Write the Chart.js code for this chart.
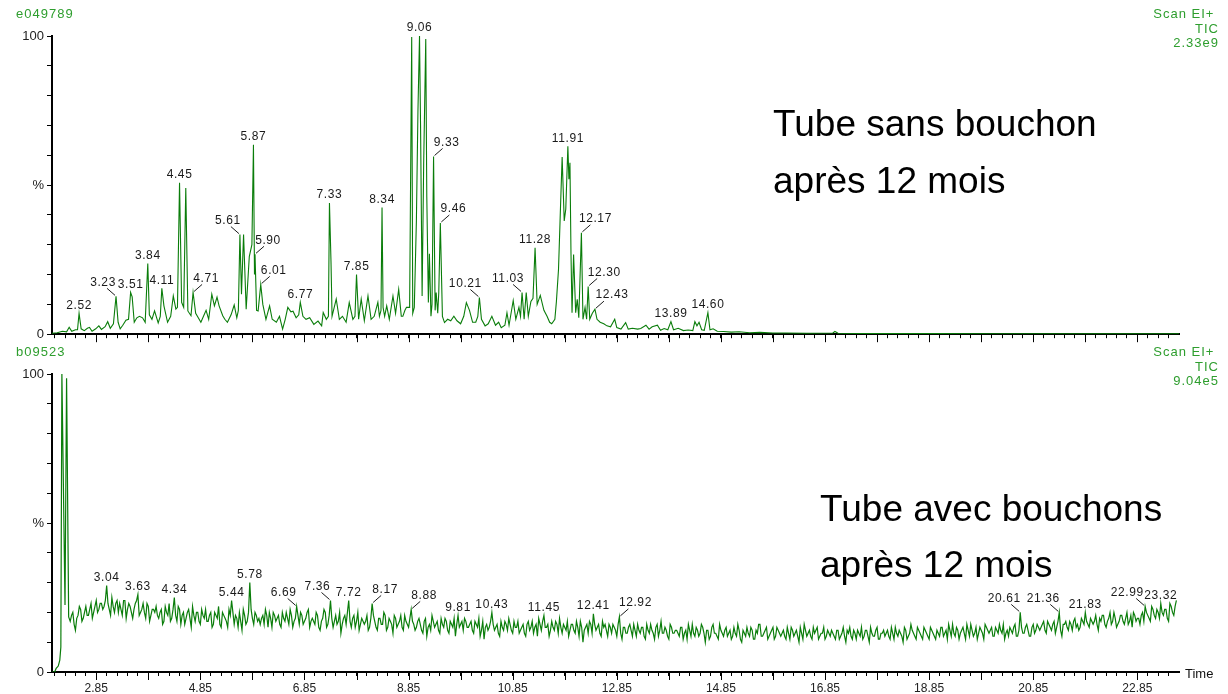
<!DOCTYPE html>
<html>
<head>
<meta charset="utf-8">
<script src="https://cdn.jsdelivr.net/npm/chart.js@4.4.1/dist/chart.umd.min.js"></script>
<style>
  body { margin: 0; width: 1228px; height: 694px; background: #fff; position: relative; overflow: hidden;
         font-family: "Liberation Sans", Arial, sans-serif; }
  canvas { position: absolute; left: 0; }
  .tag { position: absolute; color: #2e9e2e; font-size: 13px; letter-spacing: 1px; line-height: 14.5px; white-space: nowrap; }
  .right { text-align: right; }
  .big { position: absolute; font-size: 37px; color: #000; white-space: nowrap; }
</style>
</head>
<body>
<canvas id="topChart" width="1228" height="345" style="top:0"></canvas>
<canvas id="bottomChart" width="1228" height="349" style="top:345px"></canvas>

<div class="tag" style="left:16px;top:7px">e049789</div>
<div class="tag right" style="right:9px;top:7px">Scan EI+&nbsp;<br>TIC<br>2.33e9</div>
<div class="tag" style="left:16px;top:345px">b09523</div>
<div class="tag right" style="right:9px;top:345px">Scan EI+&nbsp;<br>TIC<br>9.04e5</div>

<div class="big" style="left:773px;top:95px;line-height:57px">Tube sans bouchon<br>après 12 mois</div>
<div class="big" style="left:820px;top:481px;line-height:56px">Tube avec bouchons<br>après 12 mois</div>
<div style="position:absolute;left:1185px;top:666px;font-size:13px;color:#111">Time</div>

<script>
// --- data (time in min, signal in %) ---

// top run: sans bouchon, [time, %]
const topTrace = [
  [2.00,0.3],[2.10,0.5],[2.20,1.0],[2.28,0.8],[2.33,2.3],[2.38,1.0],[2.45,1.5],[2.49,1.5],[2.52,7.0],[2.56,1.8],
  [2.62,1.2],[2.68,2.0],[2.72,2.3],[2.77,1.0],[2.84,1.8],[2.90,2.8],[2.95,1.6],[3.02,2.5],[3.07,4.2],[3.12,2.0],
  [3.18,3.5],[3.23,12.7],[3.27,4.0],[3.31,1.8],[3.36,3.0],
  [3.42,4.7],[3.47,5.0],[3.51,14.0],[3.54,12.5],[3.58,4.0],[3.63,5.5],[3.68,6.0],[3.74,5.5],[3.79,4.0],[3.84,23.7],
  [3.87,6.5],[3.92,5.0],[3.97,7.8],[4.04,3.8],[4.08,6.0],[4.11,15.4],[4.15,9.5],[4.22,4.0],[4.28,6.0],[4.33,12.8],[4.38,8.4],
  [4.41,9.0],[4.45,50.8],[4.49,10.7],[4.53,9.0],[4.57,49.0],[4.61,7.8],[4.67,6.2],[4.71,14.0],[4.76,7.0],[4.81,5.5],
  [4.86,4.0],[4.91,6.0],[4.96,8.0],[5.01,5.0],[5.07,13.4],[5.12,9.5],[5.17,12.4],[5.21,9.5],[5.28,6.2],[5.32,5.0],
  [5.37,4.0],[5.44,6.5],[5.50,9.8],[5.55,5.5],
  [5.58,8.0],[5.61,33.4],[5.64,13.4],[5.68,33.4],[5.73,8.4],[5.79,26.0],[5.84,30.0],[5.87,63.5],[5.89,20.0],[5.90,26.8],
  [5.93,8.0],[5.96,7.8],[6.01,16.7],[6.05,10.0],[6.11,5.0],[6.18,9.5],[6.23,5.0],[6.31,4.0],[6.37,6.0],[6.43,1.7],
  [6.48,5.0],[6.53,9.0],[6.59,7.5],[6.63,7.7],[6.69,5.5],
  [6.74,6.5],[6.77,10.7],[6.82,6.0],[6.88,5.0],[6.95,5.5],[7.03,3.3],[7.11,4.4],[7.18,2.8],[7.21,7.3],[7.27,5.0],
  [7.31,6.0],[7.33,44.0],[7.36,24.0],[7.38,6.0],[7.46,11.8],[7.52,5.0],[7.58,6.0],[7.65,4.0],[7.71,10.6],[7.78,5.0],
  [7.82,6.0],[7.85,20.0],[7.89,5.0],[7.94,11.8],
  [8.00,4.5],[8.07,12.8],[8.13,5.0],[8.19,6.0],[8.26,10.7],[8.29,6.0],[8.32,8.0],[8.34,42.5],[8.36,9.0],[8.39,6.0],
  [8.43,9.5],[8.48,5.0],[8.55,12.8],[8.60,7.0],[8.66,15.0],[8.71,6.0],[8.74,6.0],[8.78,8.0],[8.81,9.0],[8.87,9.0],
  [8.91,99.7],[8.93,7.0],[8.96,9.0],[9.00,38.0],[9.03,75.0],[9.06,100],[9.08,70.0],[9.11,12.8],[9.14,57.0],[9.18,99.0],
  [9.20,46.0],[9.23,10.6],[9.25,27.0],[9.28,6.0],[9.30,10.0],[9.33,59.6],[9.36,8.0],[9.38,14.0],[9.41,7.0],[9.43,14.0],
  [9.46,37.3],[9.50,6.0],
  [9.54,3.9],[9.60,5.0],[9.66,4.5],[9.72,6.0],[9.78,4.5],[9.85,3.5],[9.91,6.0],[9.96,10.6],[10.02,8.0],[10.08,4.0],
  [10.14,4.0],[10.18,6.0],[10.21,12.3],[10.25,5.0],[10.32,2.8],[10.38,3.5],[10.45,6.0],[10.52,3.0],[10.58,4.0],[10.63,2.2],
  [10.70,3.0],[10.74,7.2],[10.78,3.0],[10.86,11.3],[10.91,5.0],[10.97,9.0],[11.00,6.0],[11.03,14.0],[11.07,5.0],[11.11,14.0],
  [11.15,6.0],[11.20,11.0],[11.24,12.0],[11.28,29.0],[11.32,10.0],[11.38,13.0],[11.45,8.0],[11.51,6.0],[11.56,4.0],[11.60,3.5],
  [11.66,5.0],[11.69,11.0],
  [11.73,21.7],[11.76,38.0],[11.80,59.4],[11.84,38.0],[11.87,42.0],[11.91,63.0],[11.93,52.0],[11.95,57.5],[11.97,27.0],[11.99,7.2],
  [12.02,26.7],[12.06,7.2],[12.09,11.7],[12.12,5.5],[12.17,34.0],[12.20,5.0],[12.24,9.0],[12.27,5.0],[12.30,16.0],[12.33,5.0],
  [12.38,7.0],[12.43,8.4],[12.47,5.0],
  [12.53,4.0],[12.60,3.5],[12.66,2.8],[12.73,2.5],[12.81,5.0],[12.85,2.2],[12.93,1.7],[13.02,3.9],[13.07,1.7],[13.15,2.0],
  [13.25,1.7],[13.31,1.9],[13.41,3.0],[13.47,1.7],[13.53,2.5],[13.63,3.0],[13.69,1.3],[13.76,1.9],[13.83,1.5],[13.89,4.2],
  [13.94,1.5],[14.03,2.0],
  [14.13,1.2],[14.22,1.4],[14.31,1.2],[14.35,4.2],[14.39,2.8],[14.43,4.0],[14.48,1.5],[14.53,1.3],[14.60,7.2],[14.64,1.5],
  [14.70,1.8],[14.78,1.0],[14.90,0.9],[15.05,0.7],[15.20,0.8],[15.40,0.5],[15.60,0.6],[15.85,0.4],[16.10,0.4],[16.50,0.3],
  [17.00,0.4],[17.04,0.9],[17.10,0.3],[18.00,0.2],[19.00,0.2],[20.00,0.15],[21.00,0.15],[22.00,0.1],[23.00,0.1],[23.65,0.1]
];
const topPeaks = ['2.52','3.23','3.51','3.84','4.11','4.45','4.71','5.61','5.87','5.90','6.01','6.77','7.33','7.85',
  '8.34','9.06','9.33','9.46','10.21','11.03','11.28','11.91','12.17','12.30','12.43','13.89','14.60'];

// bottom run: avec bouchons, solvent front [time, %]
const bottomFront = [[2.00,0],[2.05,0],[2.08,1.2],[2.12,2.0],[2.15,4.0],[2.17,8.4],[2.19,100],[2.25,22.5],[2.28,98.6],[2.32,18.5]];
// then one value per scan: bottomScans at scanStart + i*scanStep, bottomScansMid half a step later
const scanStart = 2.35;
const scanStep = 0.05;
const bottomScans = [
  17, 20, 14, 19, 21, 18, 22, 19, 23, 20, 24, 21, 23,                       // 2.35 - 2.95
  22, 29, 21, 25, 20, 24, 23, 19, 24, 21, 22, 18, 23, 26, 20, 23, 18, 22, 19, 21, // 3
  22, 18, 21, 17, 20, 23, 18, 25, 17, 21, 19, 16, 20, 18, 22, 17, 20, 16, 19, 21, // 4
  17, 20, 16, 19, 22, 15, 19, 17, 21, 24, 16, 18, 20, 14, 19, 17, 30, 18, 20, 17, // 5
  16, 19, 21, 15, 18, 20, 17, 19, 15, 18, 20, 16, 19, 17, 22, 16, 19, 17, 20, 15, // 6
  18, 16, 19, 14, 18, 20, 16, 24, 15, 19, 17, 13, 18, 16, 24, 15, 19, 17, 14, 18, // 7
  16, 19, 15, 23, 17, 14, 18, 16, 19, 15, 17, 13, 18, 16, 19, 14, 17, 15, 21, 16, // 8
  15, 18, 14, 17, 12, 16, 19, 15, 17, 13, 16, 18, 14, 17, 15, 12, 19, 16, 14, 17, // 9
  15, 17, 13, 16, 18, 14, 11, 16, 15, 20, 14, 16, 12, 15, 17, 14, 16, 13, 15, 17, // 10
  14, 16, 12, 17, 15, 13, 16, 18, 14, 19, 15, 12, 17, 14, 16, 18, 13, 15, 17, 14, // 11
  16, 13, 15, 17, 10, 15, 13, 16, 19.5, 14, 16, 12, 15, 14, 16, 13, 15, 12, 18.5, 11, // 12
  15, 13, 16, 12, 14, 16, 13, 15, 11, 14, 16, 13, 15, 12, 17, 13, 14, 11, 15, 13, // 13
  14, 12, 15, 13, 11, 14, 16, 12, 14, 13, 15, 10, 14, 12, 16, 13, 11, 14, 12, 15, // 14
  13, 11, 15, 12, 14, 10, 13, 15, 12, 14, 11, 13, 16, 12, 14, 11, 13, 15, 12, 14, // 15
  12, 14, 11, 13, 15, 12, 14, 10, 13, 16, 12, 14, 11, 13, 15, 12, 13, 11, 14, 12, // 16
  13, 11, 14, 12, 15, 10, 13, 12, 14, 11, 13, 15, 12, 14, 10, 13, 12, 15, 11, 13, // 17
  12, 14, 11, 13, 15, 12, 13, 10, 14, 12, 16, 13, 11, 14, 12, 15, 13, 11, 14, 12, // 18
  14, 12, 15, 13, 11, 14, 16, 12, 14, 13, 15, 11, 14, 16, 12, 15, 13, 14, 11, 15, // 19
  13, 15, 12, 14, 16, 13, 11, 14, 15, 13, 16, 12, 20, 13, 15, 14, 12, 16, 14, 15, // 20
  15, 17, 13, 16, 14, 17, 15, 20, 12, 16, 15, 17, 14, 18, 16, 15, 17, 20, 16, 18, // 21
  16, 19, 14, 17, 19, 15, 18, 16, 20, 15, 17, 19, 16, 20, 17, 15, 19, 18, 16, 20, // 22
  22, 19, 17, 21, 18, 20, 23, 19, 21, 17, 22, 19, 24                        // 23.00 - 23.60
];
const bottomScansMid = [
  19, 16, 18, 22, 17, 20, 19, 21, 18, 22, 20, 23, 21,                       // 2.375 - 2.975
  24, 23, 19, 22, 23, 20, 21, 24, 18, 23, 20, 21, 24, 19, 21, 20, 23, 17, 21, 20, // 3
  19, 20, 16, 22, 19, 17, 21, 19, 22, 16, 20, 18, 21, 15, 19, 20, 17, 21, 18, 17, // 4
  19, 15, 20, 18, 16, 20, 18, 15, 19, 20, 19, 15, 17, 21, 16, 20, 21, 16, 19, 18, // 5
  18, 16, 19, 20, 15, 19, 18, 16, 20, 17, 18, 21, 15, 18, 19, 20, 16, 18, 21, 17, // 6
  17, 20, 15, 17, 21, 15, 19, 18, 17, 16, 20, 16, 19, 20, 17, 18, 15, 20, 16, 17, // 7
  17, 14, 18, 19, 15, 18, 16, 20, 14, 18, 16, 19, 15, 17, 15, 19, 16, 18, 17, 14, // 8
  17, 16, 13, 18, 15, 14, 17, 16, 14, 18, 15, 17, 13, 16, 18, 16, 15, 17, 18, 15, // 9
  16, 14, 17, 15, 12, 17, 15, 14, 17, 16, 15, 13, 17, 14, 16, 18, 14, 17, 15, 13, // 10
  15, 13, 16, 14, 17, 15, 12, 16, 17, 15, 16, 14, 15, 17, 13, 15, 16, 14, 12, 16, // 11
  14, 17, 12, 15, 14, 16, 17, 13, 16, 15, 13, 17, 16, 12, 15, 16, 14, 16, 13, 15, // 12
  13, 15, 14, 16, 12, 14, 15, 12, 16, 13, 14, 11, 16, 14, 13, 15, 12, 16, 13, 14, // 13
  13, 15, 11, 14, 16, 12, 13, 15, 12, 16, 13, 14, 11, 15, 13, 12, 16, 13, 14, 12, // 14
  14, 12, 13, 16, 11, 14, 12, 13, 15, 11, 14, 16, 12, 13, 15, 12, 14, 11, 15, 13, // 15
  13, 12, 15, 11, 14, 13, 12, 15, 11, 14, 13, 12, 15, 14, 11, 13, 15, 12, 13, 14, // 16
  12, 14, 11, 13, 12, 14, 15, 11, 13, 14, 12, 11, 14, 12, 15, 12, 14, 11, 13, 14, // 17
  13, 12, 15, 11, 13, 14, 12, 15, 11, 13, 14, 12, 15, 13, 11, 14, 12, 15, 13, 11, // 18
  13, 15, 12, 14, 16, 12, 13, 15, 11, 14, 13, 16, 12, 14, 13, 11, 15, 13, 16, 14, // 19
  14, 12, 15, 13, 14, 16, 13, 12, 14, 15, 12, 14, 15, 13, 16, 12, 15, 13, 16, 14, // 20
  16, 14, 17, 15, 16, 13, 17, 14, 16, 17, 14, 16, 17, 15, 14, 18, 16, 17, 15, 17, // 21
  17, 16, 18, 19, 16, 17, 20, 17, 18, 16, 19, 17, 18, 16, 19, 20, 17, 18, 19, 17, // 22
  20, 18, 22, 19, 21, 18, 20, 21, 18, 23, 20, 22                            // 23.025 - 23.575
];
const bottomPeaks = ['3.04','3.63','4.34','5.44','5.78','6.69','7.36','7.72','8.17','8.88','9.81','10.43',
  '11.45','12.41','12.92','20.61','21.36','21.83','22.99','23.32'];

const xTickLabels = ['2.85','4.85','6.85','8.85','10.85','12.85','14.85','16.85','18.85','20.85','22.85'];
const yTickValues = [0, 50, 100];
const yTickText = ['0', '%', '100'];

// --- layout / style ---
const X_MIN = 2.0, X_MAX = 23.65;
const GREEN = '#0a7d0a';
// label offsets (px) for peaks whose label sits beside a leader line
const topLeaders = {'3.23':-13,'4.71':13,'5.61':-12,'5.90':13,'6.01':13,'9.33':13,'9.46':13,'10.21':-14,
  '11.03':-14,'12.17':14,'12.30':16,'12.43':17};
const bottomLeaders = {'6.69':-13,'7.36':-13,'8.17':13,'8.88':13,'12.92':16,'20.61':-16,'21.36':-16,'22.99':-18};

Chart.defaults.font.family = '"Liberation Sans", Arial, sans-serif';
Chart.defaults.color = '#222';

const peakLabels = {
  id: 'peakLabels',
  afterDatasetsDraw(chart, args, opts) {
    const { ctx } = chart;
    const xs = chart.scales.x, ys = chart.scales.y;
    const pts = chart.data.datasets[0].data;
    ctx.save();
    ctx.font = '12px "Liberation Sans", Arial, sans-serif';
    ctx.letterSpacing = '0.6px';
    ctx.fillStyle = '#1a1a1a';
    ctx.strokeStyle = '#1a1a1a';
    ctx.lineWidth = 1;
    ctx.textAlign = 'center';
    ctx.textBaseline = 'bottom';
    opts.labels.forEach(txt => {
      const t = parseFloat(txt);
      let best = pts.find(p => Math.abs(p.x - t) < 0.004);
      if (!best) {
        pts.forEach(p => { if (Math.abs(p.x - t) <= 0.035 && (!best || p.y > best.y)) best = p; });
      }
      if (!best) return;
      const px = xs.getPixelForValue(best.x);
      const py = ys.getPixelForValue(best.y);
      const dx = opts.leaders[txt];
      if (dx) {
        const s = Math.sign(dx);
        ctx.beginPath();
        ctx.moveTo(px + s, py - 1);
        ctx.lineTo(px + s * 9, py - 8);
        ctx.stroke();
        ctx.fillText(txt, px + dx, py - 8);
      } else {
        ctx.fillText(txt, px, py - 2);
      }
    });
    ctx.restore();
  }
};

// longer marks at every whole minute (x.85)
const majorTicks = {
  id: 'majorTicks',
  afterDraw(chart) {
    const { ctx, chartArea } = chart;
    const xs = chart.scales.x;
    ctx.save();
    ctx.strokeStyle = '#000';
    ctx.lineWidth = 1;
    for (let v = 2.85; v <= X_MAX; v += 1) {
      const px = Math.round(xs.getPixelForValue(v)) + 0.5;
      ctx.beginPath();
      ctx.moveTo(px, chartArea.bottom);
      ctx.lineTo(px, chartArea.bottom + 8);
      ctx.stroke();
    }
    ctx.restore();
  }
};

function makeChart(id, points, labels, leaders, padTop, xHeight, showX, lineW) {
  return new Chart(document.getElementById(id), {
    type: 'scatter',
    data: {
      datasets: [{
        data: points,
        showLine: true,
        borderColor: GREEN,
        borderWidth: lineW,
        pointRadius: 0,
        tension: 0
      }]
    },
    options: {
      responsive: false,
      animation: false,
      events: [],
      layout: { padding: { top: padTop, right: 49, left: 0, bottom: 0 } },
      plugins: {
        legend: { display: false },
        tooltip: { enabled: false },
        peakLabels: { labels: labels, leaders: leaders }
      },
      scales: {
        x: {
          type: 'linear',
          min: X_MIN,
          max: X_MAX,
          afterFit: s => { s.height = xHeight; },
          afterBuildTicks: s => {
            const t = [];
            for (let k = 0; 2.05 + k * 0.2 <= X_MAX; k++) t.push({ value: Math.round((2.05 + k * 0.2) * 100) / 100 });
            s.ticks = t;
          },
          grid: { drawOnChartArea: false, drawTicks: true, tickLength: 4, color: '#000' },
          border: { display: true, color: '#000', width: 2 },
          ticks: {
            autoSkip: false,
            maxRotation: 0,
            padding: 5,
            font: { size: 12 },
            color: '#222',
            callback: v => {
              const s = Number(v).toFixed(2);
              return showX && xTickLabels.includes(s) ? s : '';
            }
          }
        },
        y: {
          min: 0,
          max: 100,
          afterFit: s => { s.width = 52; },
          grid: { drawOnChartArea: false, drawTicks: true, tickLength: 5, color: '#000' },
          border: { display: true, color: '#000', width: 2 },
          ticks: {
            stepSize: 10,
            autoSkip: false,
            padding: 3,
            font: { size: 13 },
            color: '#222',
            callback: v => {
              const i = yTickValues.indexOf(v);
              return i >= 0 ? yTickText[i] : '';
            }
          }
        }
      }
    },
    plugins: [peakLabels, majorTicks]
  });
}

const topPoints = topTrace.map(([t, v]) => ({ x: t, y: v }));
const scanPoints = bottomScans.map((v, i) => ({ x: Math.round((scanStart + i * scanStep) * 1000) / 1000, y: v }))
  .concat(bottomScansMid.map((v, i) => ({ x: Math.round((scanStart + scanStep / 2 + i * scanStep) * 1000) / 1000, y: v })))
  .sort((a, b) => a.x - b.x);
const bottomPoints = bottomFront.map(([t, v]) => ({ x: t, y: v })).concat(scanPoints);

makeChart('topChart', topPoints, topPeaks, topLeaders, 36, 10, false, 1.1);
makeChart('bottomChart', bottomPoints, bottomPeaks, bottomLeaders, 29, 22, true, 1.2);
</script>
</body>
</html>
